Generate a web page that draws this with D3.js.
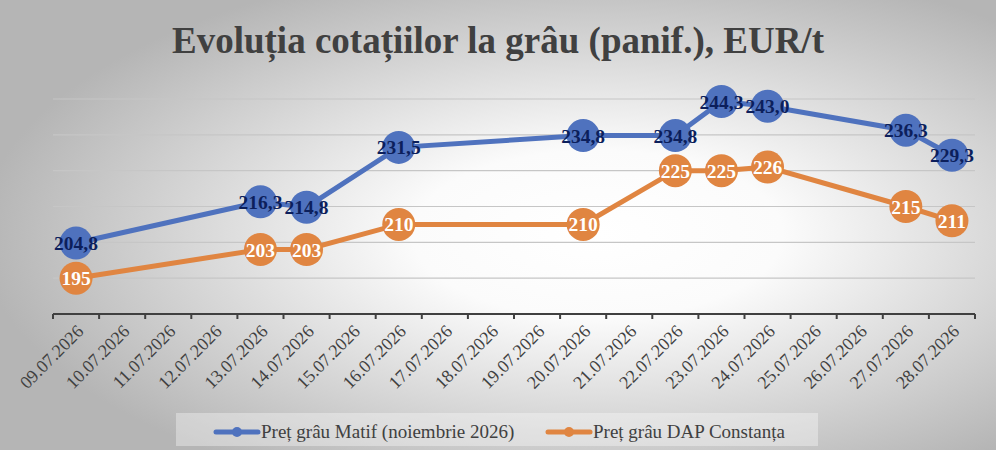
<!DOCTYPE html>
<html>
<head>
<meta charset="utf-8">
<script src="https://cdn.jsdelivr.net/npm/d3@7"></script>
<style>
  html, body { margin: 0; padding: 0; }
  #chart { width: 996px; height: 450px; }
</style>
</head>
<body>
<div id="chart"></div>
<script>
// Data
const dates = ['09.07.2026', '10.07.2026', '11.07.2026', '12.07.2026', '13.07.2026',
  '14.07.2026', '15.07.2026', '16.07.2026', '17.07.2026', '18.07.2026', '19.07.2026',
  '20.07.2026', '21.07.2026', '22.07.2026', '23.07.2026', '24.07.2026', '25.07.2026',
  '26.07.2026', '27.07.2026', '28.07.2026'];
const pointDates = ['09.07.2026', '13.07.2026', '14.07.2026', '16.07.2026', '20.07.2026',
  '22.07.2026', '23.07.2026', '24.07.2026', '27.07.2026', '28.07.2026'];
const matif = [204.8, 216.3, 214.8, 231.5, 234.8, 234.8, 244.3, 243.0, 236.3, 229.3];
const dap = [195, 203, 203, 210, 210, 225, 225, 226, 215, 211];
const gridValues = [195, 205, 215, 225, 235, 245];
const seriesNames = ['Preț grâu Matif (noiembrie 2026)', 'Preț grâu DAP Constanța'];

const width = 996;
const height = 450;
const serif = '"Liberation Serif", "Times New Roman", serif';

const svg = d3.select('#chart')
  .append('svg')
  .attr('width', width)
  .attr('height', height);

// radial background
const defs = svg.append('defs');
const grad = defs.append('radialGradient')
  .attr('id', 'bg')
  .attr('cx', '0.6').attr('cy', '0.52').attr('r', '0.62');
grad.append('stop').attr('offset', '0').attr('stop-color', '#ffffff');
grad.append('stop').attr('offset', '0.3').attr('stop-color', '#fbfbfb');
grad.append('stop').attr('offset', '1').attr('stop-color', '#b5b5b5');

svg.append('rect')
  .attr('width', width)
  .attr('height', height)
  .attr('fill', 'url(#bg)');

const x = d3.scaleBand()
  .domain(dates)
  .range([53, 975])
  .paddingInner(0)
  .paddingOuter(0);

const y = d3.scaleLinear()
  .domain([185, 245])
  .range([314, 99]);

const cx = d => x(d) + x.bandwidth() / 2;

// title
svg.append('text')
  .attr('x', 498)
  .attr('y', 53)
  .attr('text-anchor', 'middle')
  .style('font-family', serif)
  .style('font-size', '37px')
  .style('font-weight', 'bold')
  .style('fill', '#404040')
  .text('Evoluția cotațiilor la grâu (panif.), EUR/t');

// gridlines
svg.append('g')
  .selectAll('line')
  .data(gridValues)
  .join('line')
  .attr('x1', 53)
  .attr('x2', 975)
  .attr('y1', d => y(d))
  .attr('y2', d => y(d))
  .attr('stroke', '#c6c6c6')
  .attr('stroke-width', 1.2);

// x axis
const axis = svg.append('g');
axis.append('line')
  .attr('x1', 53).attr('x2', 975)
  .attr('y1', y(185)).attr('y2', y(185))
  .attr('stroke', '#404040')
  .attr('stroke-width', 2.2);

const boundaries = dates.map(d => x(d)).concat([x.range()[1]]);
axis.selectAll('line.tick')
  .data(boundaries)
  .join('line')
  .attr('class', 'tick')
  .attr('x1', d => d).attr('x2', d => d)
  .attr('y1', y(185)).attr('y2', y(185) + 5)
  .attr('stroke', '#404040')
  .attr('stroke-width', 2);

axis.selectAll('text')
  .data(dates)
  .join('text')
  .attr('transform', d => `translate(${cx(d) + 4},${y(185) + 14}) rotate(-45)`)
  .attr('text-anchor', 'end')
  .attr('dy', '0.35em')
  .style('font-family', serif)
  .style('font-size', '18px')
  .style('fill', '#404040')
  .text(d => d);

// series
const series = [
  { name: seriesNames[0], values: matif, color: '#4f72be', labelColor: '#0c1f5c', fmt: v => d3.format('.1f')(v).replace('.', ',') },
  { name: seriesNames[1], values: dap, color: '#e08541', labelColor: '#ffffff', fmt: v => d3.format('d')(v) }
];

const line = d3.line()
  .x((d, i) => cx(pointDates[i]))
  .y(d => y(d));

series.forEach(s => {
  const g = svg.append('g');
  g.append('path')
    .datum(s.values)
    .attr('d', line)
    .attr('fill', 'none')
    .attr('stroke', s.color)
    .attr('stroke-width', 5);

  g.selectAll('circle')
    .data(s.values)
    .join('circle')
    .attr('cx', (d, i) => cx(pointDates[i]))
    .attr('cy', d => y(d))
    .attr('r', 16.5)
    .attr('fill', s.color);

  g.selectAll('text')
    .data(s.values)
    .join('text')
    .attr('x', (d, i) => cx(pointDates[i]))
    .attr('y', d => y(d))
    .attr('dy', '0.36em')
    .attr('text-anchor', 'middle')
    .style('font-family', serif)
    .style('font-size', '19.5px')
    .style('font-weight', 'bold')
    .style('fill', s.labelColor)
    .text(d => s.fmt(d));
});

// legend
const legend = svg.append('g');
legend.append('rect')
  .attr('x', 176).attr('y', 413)
  .attr('width', 642).attr('height', 33)
  .attr('fill', '#ffffff')
  .attr('opacity', 0.35);

const legendX = [216, 548];
series.forEach((s, i) => {
  const row = legend.append('g').attr('transform', `translate(${legendX[i]},432)`);
  row.append('line')
    .attr('x1', 0).attr('x2', 42)
    .attr('stroke', s.color)
    .attr('stroke-width', 5)
    .attr('stroke-linecap', 'round');
  row.append('circle')
    .attr('cx', 21).attr('r', 5)
    .attr('fill', s.color);
  row.append('text')
    .attr('x', 45)
    .attr('y', 0)
    .attr('dy', '0.33em')
    .style('font-family', serif)
    .style('font-size', '19px')
    .style('fill', '#404040')
    .text(s.name);
});
</script>
</body>
</html>
